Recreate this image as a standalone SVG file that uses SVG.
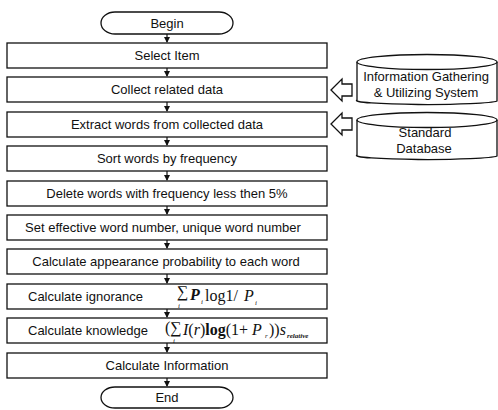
<svg xmlns="http://www.w3.org/2000/svg" width="498" height="410" viewBox="0 0 498 410">
<style>
.box{fill:#fff;stroke:#111;stroke-width:1.3}
.t{font-family:"Liberation Sans",Arial,sans-serif;font-size:13px;fill:#111;text-anchor:middle}
.tl{font-family:"Liberation Sans",Arial,sans-serif;font-size:13px;fill:#111}
.f{font-family:"Liberation Serif","Times New Roman",serif;font-size:16px;fill:#111}
.s{font-family:"Liberation Serif","Times New Roman",serif;font-size:7px;fill:#111;font-style:italic}
.c{fill:none;stroke:#111;stroke-width:1.2}
</style>
<defs>
<marker id="ah" markerWidth="6" markerHeight="6" refX="5" refY="3" orient="auto" markerUnits="userSpaceOnUse">
<path d="M0,0 L6,3 L0,6 Z" fill="#111"/>
</marker>
</defs>
<rect width="498" height="410" fill="#fff"/>
<g id="connectors">
<line class="c" x1="167" y1="34" x2="167" y2="42" marker-end="url(#ah)"/>
<line class="c" x1="167" y1="68" x2="167" y2="76" marker-end="url(#ah)"/>
<line class="c" x1="167" y1="102" x2="167" y2="111" marker-end="url(#ah)"/>
<line class="c" x1="167" y1="137" x2="167" y2="145" marker-end="url(#ah)"/>
<line class="c" x1="167" y1="171" x2="167" y2="180" marker-end="url(#ah)"/>
<line class="c" x1="167" y1="206" x2="167" y2="214" marker-end="url(#ah)"/>
<line class="c" x1="167" y1="240" x2="167" y2="248" marker-end="url(#ah)"/>
<line class="c" x1="167" y1="274" x2="167" y2="283" marker-end="url(#ah)"/>
<line class="c" x1="167" y1="309" x2="167" y2="317" marker-end="url(#ah)"/>
<line class="c" x1="167" y1="343" x2="167" y2="352" marker-end="url(#ah)"/>
<line class="c" x1="167" y1="378" x2="167" y2="386" marker-end="url(#ah)"/>
<path class="box" d="M331,90 L342,79 L342,84 L352,84 L352,96 L342,96 L342,101 Z"/>
<path class="box" d="M331,124 L342,113 L342,118 L352,118 L352,130 L342,130 L342,135 Z"/>
</g>
<g id="begin">
<rect class="box" x="101" y="12" width="132" height="22" rx="14" ry="11"/>
<text class="t" x="167" y="28">Begin</text>
</g>
<g id="select">
<rect class="box" x="7" y="43" width="320" height="25"/>
<text class="t" x="167" y="60">Select Item</text>
</g>
<g id="collect">
<rect class="box" x="7" y="77" width="320" height="25"/>
<text class="t" x="167" y="94">Collect related data</text>
</g>
<g id="extract">
<rect class="box" x="7" y="112" width="320" height="25"/>
<text class="t" x="167" y="129">Extract words from collected data</text>
</g>
<g id="sort">
<rect class="box" x="7" y="146" width="320" height="25"/>
<text class="t" x="167" y="163">Sort words by frequency</text>
</g>
<g id="delete">
<rect class="box" x="7" y="181" width="320" height="25"/>
<text class="t" x="167" y="198">Delete words with frequency less then 5%</text>
</g>
<g id="set">
<rect class="box" x="7" y="215" width="320" height="25"/>
<text class="t" x="163" y="232">Set effective word number, unique word number</text>
</g>
<g id="appearance">
<rect class="box" x="7" y="249" width="320" height="25"/>
<text class="t" x="166" y="266">Calculate appearance probability to each word</text>
</g>
<g id="ignorance">
<rect class="box" x="7" y="284" width="320" height="25"/>
<text class="tl" x="28" y="301">Calculate ignorance</text>
<text class="f" x="177" y="297" font-size="13">∑</text>
<text class="s" x="178" y="308">i</text>
<text class="f" x="190" y="300" font-style="italic" font-weight="bold">P</text>
<text class="s" x="201" y="304">i</text>
<text class="f" x="205" y="301" font-size="17">log1/</text>
<text class="f" x="244" y="301" font-style="italic" font-size="17">P</text>
<text class="s" x="255" y="305">i</text>
</g>
<g id="knowledge">
<rect class="box" x="7" y="318" width="320" height="25"/>
<text class="tl" x="28" y="335">Calculate knowledge</text>
<text class="f" x="165" y="333" font-size="14">(∑</text>
<text class="s" x="173" y="343">i</text>
<text class="f" x="183" y="335" font-size="14"><tspan font-style="italic">I</tspan>(<tspan font-style="italic">r</tspan>)<tspan font-weight="bold">log</tspan>(1+ <tspan font-style="italic">P</tspan></text>
<text class="s" x="265" y="338">r</text>
<text class="f" x="269" y="335" font-size="14">))<tspan font-style="italic">s</tspan></text>
<text class="s" x="287" y="338" font-size="6" font-weight="bold">relative</text>
</g>
<g id="information">
<rect class="box" x="7" y="353" width="320" height="25"/>
<text class="t" x="167" y="370">Calculate Information</text>
</g>
<g id="end">
<rect class="box" x="101" y="387" width="132" height="21" rx="14" ry="10.5"/>
<text class="t" x="167" y="402">End</text>
</g>
<g id="igus">
<path class="box" d="M357,62 L357,100 A70 4 0 0 0 497,101 L497,62"/>
<ellipse class="box" cx="427" cy="62" rx="70" ry="7.5"/>
<text class="t" x="426" y="81">Information Gathering</text>
<text class="t" x="426" y="97">&amp; Utilizing System</text>
</g>
<g id="stddb">
<path class="box" d="M357,120 L357,155 A70 4 0 0 0 497,156 L497,120"/>
<text class="t" x="425" y="137">Standard</text>
<ellipse cx="427" cy="120" rx="70" ry="7.5" fill="none" stroke="#111" stroke-width="1.3"/>
<text class="t" x="424" y="153">Database</text>
</g>
</svg>
